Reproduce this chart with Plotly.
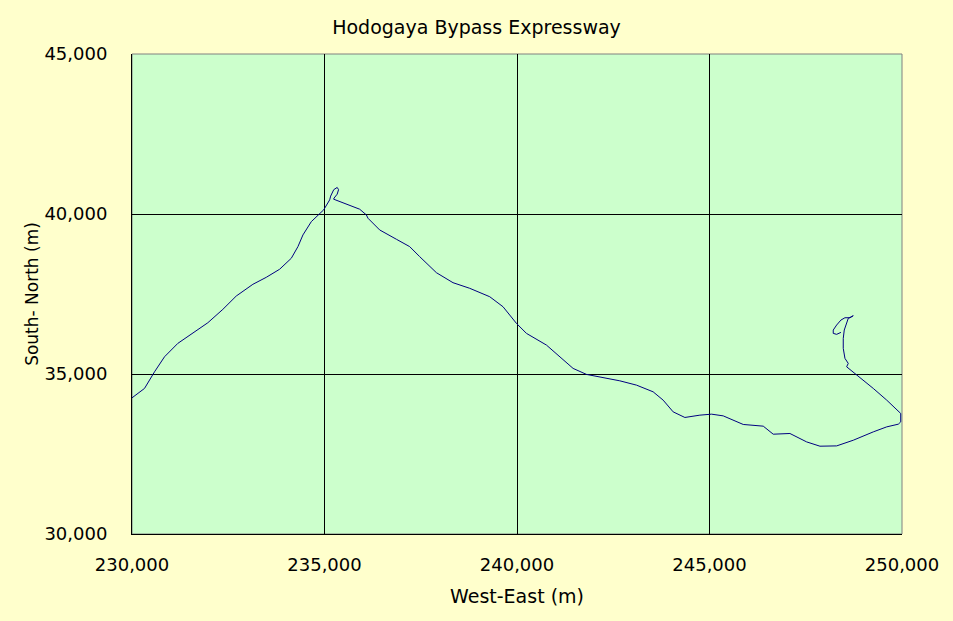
import plotly.graph_objects as go

# Route coordinates (m)
west_east = [
    230000, 230325, 230585, 230845, 231190, 231580, 231970, 232360, 232708, 233140,
    233488, 233834, 234138, 234310, 234440, 234658, 234978, 235134, 235160, 235240,
    235330, 235365, 235330, 235250, 235237, 235913, 236087, 236129, 236433, 236867,
    237213, 237473, 237907, 238338, 238772, 239292, 239637, 239985, 240245, 240765,
    241197, 241457, 241805, 242237, 242670, 243104, 243536, 243796, 244056, 244360,
    244750, 245054, 245356, 245876, 246396, 246655, 247089, 247523, 247869, 248303,
    248735, 249254, 249603, 249904, 249967, 249967, 249603, 249254, 248778, 248562,
    248604, 248518, 248474, 248474, 248500, 248562, 248604, 248734, 248648, 248518,
    248414, 248302, 248214, 248214, 248302, 248414,
]
south_north = [
    34255, 34549, 35068, 35538, 35957, 36270, 36602, 37021, 37437, 37803,
    38022, 38273, 38617, 38980, 39346, 39762, 40128, 40441, 40560, 40760,
    40830, 40760, 40620, 40500, 40463, 40150, 39972, 39868, 39502, 39211,
    38980, 38667, 38166, 37853, 37678, 37415, 37102, 36583, 36270, 35904,
    35435, 35175, 34987, 34881, 34787, 34652, 34443, 34183, 33817, 33642,
    33714, 33745, 33692, 33423, 33370, 33119, 33141, 32878, 32744, 32753,
    32931, 33191, 33348, 33432, 33504, 33767, 34183, 34549, 35018, 35225,
    35331, 35488, 35801, 36114, 36373, 36583, 36739, 36821, 36758, 36758,
    36686, 36530, 36373, 36270, 36239, 36301,
]

x_ticks = [230000, 235000, 240000, 245000, 250000]
y_ticks = [30000, 35000, 40000, 45000]

FONT = "DejaVu Sans"

fig = go.Figure()
fig.add_trace(go.Scatter(
    x=west_east, y=south_north, mode="lines",
    line=dict(color="#000080", width=1),
    hoverinfo="skip", showlegend=False,
))

fig.update_layout(
    width=953, height=621,
    margin=dict(l=132, r=51, t=54, b=87),
    paper_bgcolor="#FFFFCC",
    plot_bgcolor="#CCFFCC",
    font=dict(family=FONT, size=18, color="#000000"),
    title=dict(text="Hodogaya Bypass Expressway", x=0.5, xanchor="center",
               y=1 - 27 / 621, yanchor="middle",
               font=dict(family=FONT, size=19, color="#000000")),
    showlegend=False,
)
fig.update_xaxes(
    range=[230000, 250000], tickvals=x_ticks, tickformat=",d",
    showgrid=True, gridcolor="#000000", gridwidth=1,
    showline=True, linecolor="#000000", linewidth=1,
    ticks="", ticklabelstandoff=14, zeroline=False,
    title=dict(text="West-East (m)", standoff=16, font=dict(size=19)),
    tickfont=dict(size=18),
)
fig.update_yaxes(
    range=[30000, 45000], tickvals=y_ticks, tickformat=",d",
    showgrid=True, gridcolor="#000000", gridwidth=1,
    showline=True, linecolor="#000000", linewidth=1,
    ticks="", ticklabelstandoff=20, zeroline=False,
    title=dict(text="South- North (m)", standoff=1, font=dict(size=17)),
    tickfont=dict(size=18),
)
fig.add_shape(type="rect", xref="paper", yref="paper", x0=0, x1=1, y0=0, y1=1,
              line=dict(color="#808080", width=1), fillcolor="rgba(0,0,0,0)",
              layer="below")
fig.write_html(
    "out.html",
    config={"displayModeBar": False},
    post_script="document.body.style.margin='0';document.body.style.padding='0';"
                "document.documentElement.style.overflow='hidden';",
)
